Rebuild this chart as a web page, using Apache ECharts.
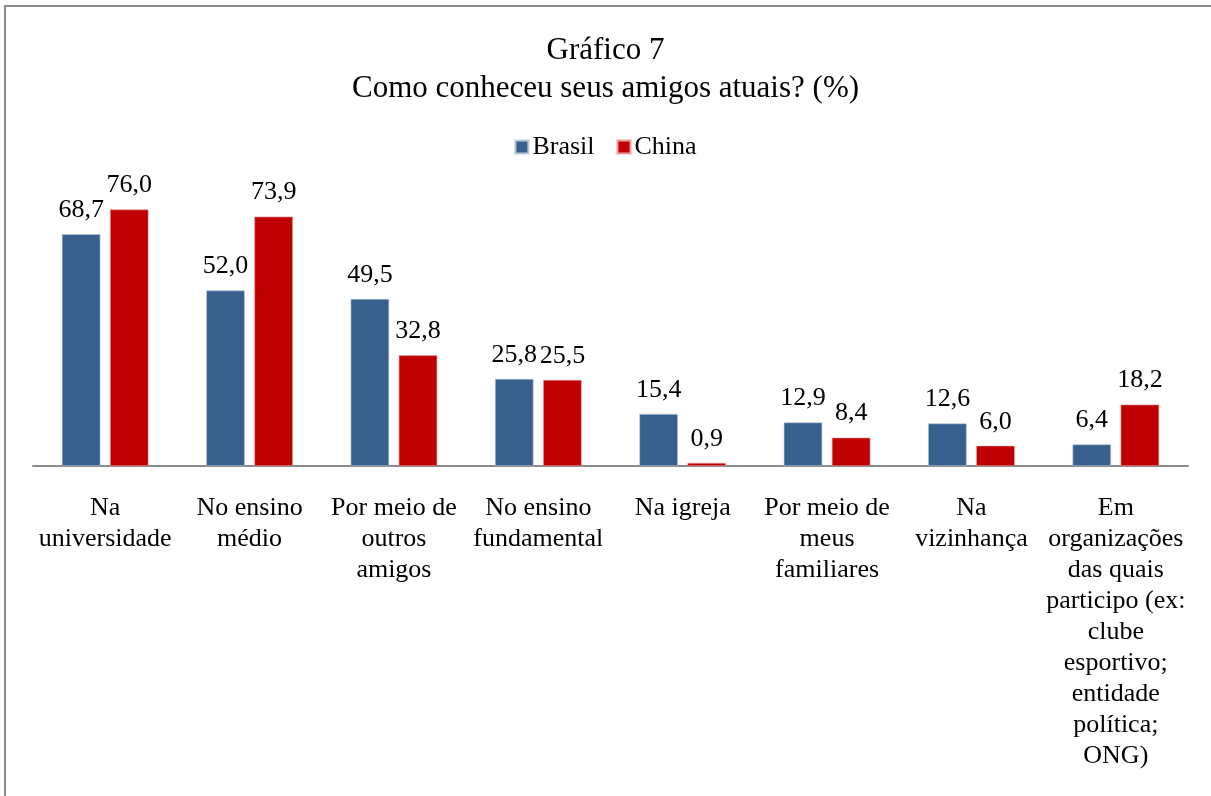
<!DOCTYPE html>
<html>
<head>
<meta charset="utf-8">
<script src="https://cdn.jsdelivr.net/npm/echarts@6/dist/echarts.min.js"></script>
<style>
  html, body { margin: 0; padding: 0; background: #fff; }
  #chart { width: 1211px; height: 796px; }
</style>
</head>
<body>
<div id="chart"></div>
<script>
// Categories (line breaks as shown under the axis)
const categories = [
  'Na\nuniversidade',
  'No ensino\nmédio',
  'Por meio de\noutros\namigos',
  'No ensino\nfundamental',
  'Na igreja',
  'Por meio de\nmeus\nfamiliares',
  'Na\nvizinhança',
  'Em\norganizações\ndas quais\nparticipo (ex:\nclube\nesportivo;\nentidade\npolítica;\nONG)'
];
const brasil = [68.7, 52.0, 49.5, 25.8, 15.4, 12.9, 12.6, 6.4];
const china  = [76.0, 73.9, 32.8, 25.5, 0.9, 8.4, 6.0, 18.2];

const FONT = '"Liberation Serif", "Times New Roman", serif';
const fmt = p => p.value.toFixed(1).replace('.', ',');

const chart = echarts.init(document.getElementById('chart'), null, { renderer: 'canvas' });
chart.setOption({
  backgroundColor: '#fff',
  animation: false,
  textStyle: { fontFamily: FONT, color: '#000' },
  graphic: [{
    type: 'rect',
    shape: { x: 5, y: 6, width: 1220, height: 800 },
    style: { fill: 'none', stroke: '#8c8c8c', lineWidth: 2 },
    silent: true
  }],
  title: {
    text: 'Gráfico 7\nComo conheceu seus amigos atuais? (%)',
    left: 'center',
    top: 27,
    textStyle: { fontFamily: FONT, fontSize: 31, fontWeight: 'normal', color: '#000', lineHeight: 38 }
  },
  legend: {
    top: 129,
    left: 'center',
    itemWidth: 13,
    itemHeight: 13,
    itemGap: 22,
    icon: 'rect',
    textStyle: { fontFamily: FONT, fontSize: 26, color: '#000', padding: [0, 0, 0, -1] },
    data: ['Brasil', 'China']
  },
  grid: { left: 33, right: 23, top: 196, bottom: 330, containLabel: false },
  xAxis: {
    type: 'category',
    data: categories,
    axisLine: { lineStyle: { color: '#8c8c8c', width: 2 } },
    axisTick: { show: false },
    axisLabel: {
      interval: 0,
      margin: 27,
      fontFamily: FONT,
      fontSize: 26,
      color: '#000',
      lineHeight: 31,
      align: 'center',
      verticalAlign: 'top'
    }
  },
  yAxis: {
    type: 'value',
    min: 0,
    max: 80,
    interval: 10,
    show: false,
    splitLine: { show: false }
  },
  series: [
    {
      name: 'Brasil',
      type: 'bar',
      data: brasil,
      barGap: '25%',
      barCategoryGap: '40%',
      itemStyle: { color: '#37608f', borderColor: '#b9c9dc', borderWidth: 0.6 },
      label: {
        show: true, position: 'top', distance: 11, formatter: fmt,
        fontFamily: FONT, fontSize: 26, color: '#000'
      }
    },
    {
      name: 'China',
      type: 'bar',
      data: china,
      itemStyle: { color: '#c00000', borderColor: '#e6a0a0', borderWidth: 0.6 },
      label: {
        show: true, position: 'top', distance: 11, formatter: fmt,
        fontFamily: FONT, fontSize: 26, color: '#000'
      }
    }
  ]
});
</script>
</body>
</html>
